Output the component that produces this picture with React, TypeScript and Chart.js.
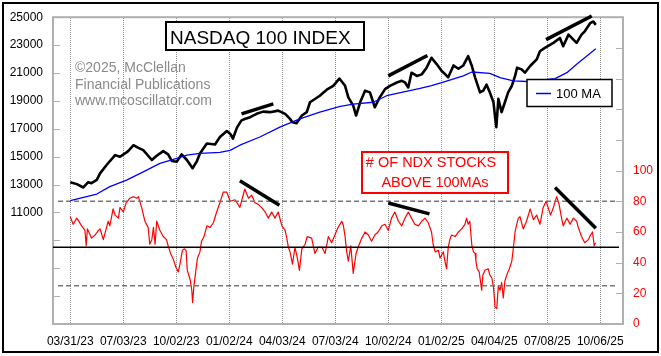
import React, { useEffect, useRef } from 'react';
import { Chart, registerables } from 'chart.js';

Chart.register(...registerables);

const FONT = '"Liberation Sans", Arial, Helvetica, sans-serif';

// x axis: weeks since 03/31/23
const X_MIN = -4.24;
const X_MAX = 135.57;
const dateTickWeeks = [0, 13, 26, 39, 52, 65, 78, 91, 104, 117, 130];
const dateLabels = ['03/31/23', '07/03/23', '10/02/23', '01/02/24', '04/03/24', '07/03/24', '10/02/24', '01/02/25', '04/04/25', '07/08/25', '10/06/25'];

// NASDAQ 100 index (left axis)
const priceWeeks = [0.0, 1.6, 3.2, 4.4, 5.2, 6.5, 7.3, 8.9, 11.0, 12.2, 13.4, 14.2, 15.5, 16.7, 17.9, 20.0, 21.2, 22.8, 24.0, 24.9, 26.1, 27.3, 28.6, 30.0, 31.0, 31.8, 33.5, 35.5, 36.7, 38.4, 39.2, 39.9, 40.9, 42.0, 42.8, 44.1, 45.7, 47.3, 49.0, 51.0, 52.7, 53.9, 54.5, 55.5, 56.8, 58.0, 58.8, 61.2, 62.9, 64.5, 66.0, 67.4, 68.2, 69.4, 70.1, 71.1, 72.3, 73.5, 74.3, 74.7, 75.9, 77.2, 78.4, 80.1, 81.3, 82.1, 82.9, 83.7, 85.0, 86.2, 87.4, 88.6, 89.9, 91.1, 91.5, 92.7, 94.0, 95.2, 96.4, 97.6, 98.5, 99.3, 100.5, 101.3, 102.1, 102.9, 103.8, 104.2, 104.5, 105.0, 105.8, 106.6, 107.4, 108.3, 109.1, 109.6, 110.7, 111.5, 112.8, 114.4, 115.2, 116.4, 118.5, 120.1, 120.9, 122.2, 123.4, 124.2, 125.4, 126.2, 127.5, 128.3, 128.9];
const priceValues = [13170, 13030, 12790, 13170, 13100, 13340, 13800, 14400, 15110, 14990, 15230, 15400, 15820, 15630, 15470, 14760, 15060, 15400, 15160, 14690, 14640, 15160, 14760, 14170, 14640, 15230, 15940, 15870, 16410, 16840, 16650, 16300, 17100, 17600, 17700, 17830, 18070, 18230, 18190, 18300, 18070, 17710, 17470, 17400, 17950, 18190, 18900, 19370, 19800, 20080, 20600, 20080, 19250, 18660, 17950, 18900, 19730, 19610, 18900, 18540, 19250, 19840, 20080, 20320, 20440, 20320, 19960, 21020, 20790, 20900, 21380, 22090, 21620, 21140, 21040, 20690, 21540, 21300, 21540, 22210, 21500, 20670, 19610, 19730, 20160, 19610, 18900, 17830, 17120, 19140, 18190, 18900, 19610, 20080, 20790, 21380, 21260, 21020, 21500, 21970, 22560, 22800, 23160, 23510, 22920, 23750, 23390, 23160, 23750, 23990, 24570, 24690, 24450];

// 100-day moving average (left axis)
const maWeeks = [0.0, 6.5, 9.7, 13.8, 17.9, 22.0, 26.1, 28.6, 31.8, 36.7, 39.2, 41.6, 46.5, 51.4, 56.3, 61.2, 66.2, 69.4, 74.3, 77.6, 85.8, 88.6, 91.5, 96.4, 98.5, 102.9, 105.4, 108.7, 111.9, 116.0, 118.9, 121.8, 124.2, 126.7, 128.9];
const maValues = [11850, 12320, 12850, 13320, 13910, 14520, 14870, 15110, 15230, 15300, 15450, 15820, 16410, 17120, 17710, 18190, 18600, 18770, 18900, 19370, 19890, 20100, 20350, 20790, 21070, 20970, 20670, 20440, 20390, 20500, 20600, 21020, 21620, 22210, 22730];

// # of NDX stocks above 100-day MAs (right axis)
const breadthWeeks = [0.0, 0.7, 1.6, 2.8, 3.6, 3.9, 4.2, 5.2, 6.1, 6.9, 7.3, 8.1, 8.9, 9.3, 9.7, 10.5, 11.0, 11.8, 12.2, 13.0, 13.7, 14.6, 15.5, 16.3, 16.7, 17.5, 18.3, 19.1, 19.5, 20.0, 20.4, 20.8, 21.2, 22.0, 22.8, 23.6, 24.0, 24.6, 25.3, 25.9, 26.5, 26.9, 27.5, 27.9, 28.4, 28.7, 29.4, 29.8, 30.0, 30.3, 30.8, 31.2, 31.8, 32.2, 32.8, 33.5, 34.3, 35.1, 35.9, 36.7, 37.5, 38.4, 39.2, 40.4, 41.6, 42.8, 43.7, 44.5, 45.3, 46.1, 46.9, 47.8, 48.6, 49.4, 50.2, 51.0, 51.9, 52.7, 53.1, 53.5, 53.9, 54.5, 55.1, 55.7, 56.2, 56.8, 57.6, 58.1, 59.2, 60.0, 60.8, 61.7, 62.5, 63.3, 64.1, 64.9, 65.7, 66.6, 67.0, 67.4, 67.8, 68.2, 68.8, 69.4, 70.1, 70.6, 71.5, 72.3, 73.1, 73.9, 74.7, 75.5, 76.4, 77.2, 78.0, 78.8, 79.6, 80.5, 81.3, 82.1, 82.9, 83.7, 84.5, 85.4, 86.2, 87.0, 87.8, 88.6, 89.0, 89.5, 90.3, 90.7, 91.5, 91.9, 92.3, 92.7, 93.1, 93.5, 94.4, 95.2, 96.0, 96.8, 97.2, 97.6, 98.0, 98.5, 98.9, 99.3, 99.5, 99.8, 100.3, 100.7, 100.9, 101.2, 101.7, 102.5, 102.9, 103.4, 103.8, 104.2, 104.6, 105.0, 105.4, 105.8, 106.2, 106.6, 107.2, 107.7, 108.3, 108.7, 109.1, 109.5, 109.9, 110.3, 111.1, 111.9, 112.8, 113.6, 114.4, 115.2, 116.0, 116.7, 117.2, 117.8, 118.5, 119.3, 119.9, 120.5, 120.9, 121.8, 122.6, 123.4, 124.2, 124.6, 125.4, 126.2, 127.1, 127.6, 128.1, 128.5, 128.8];
const breadthValues = [70, 65, 69, 64, 61, 51, 62, 56, 58, 61, 62, 55, 63, 67, 64, 75, 71, 69, 76, 73, 79, 82, 83, 82, 83, 76, 67, 63, 52, 55, 63, 52, 67, 61, 57, 55, 51, 46, 42, 37, 34, 39, 48, 49, 48, 35, 29, 22, 14, 24, 35, 43, 47, 54, 57, 64, 63, 66, 73, 79, 86, 86, 80, 81, 76, 88, 82, 84, 79, 78, 76, 73, 69, 73, 69, 73, 64, 61, 56, 50, 47, 39, 50, 43, 35, 49, 52, 57, 56, 46, 50, 50, 46, 57, 53, 58, 63, 67, 64, 57, 47, 41, 51, 33, 46, 50, 56, 60, 58, 54, 58, 60, 64, 65, 61, 69, 73, 67, 64, 69, 73, 69, 65, 64, 67, 69, 66, 60, 52, 47, 48, 43, 47, 41, 36, 50, 55, 58, 57, 60, 62, 65, 69, 65, 67, 51, 47, 46, 41, 36, 34, 26, 22, 32, 35, 36, 32, 30, 24, 11, 10, 25, 22, 27, 17, 28, 33, 36, 41, 50, 60, 65, 69, 70, 62, 67, 75, 68, 71, 65, 76, 80, 76, 71, 76, 83, 78, 69, 64, 69, 65, 69, 67, 63, 57, 53, 55, 58, 60, 51, 53];

// reference levels on the breadth axis
const upperLevel = 80;
const middleLevel = 50;
const lowerLevel = 25;
const dashedSpan = [-3.0, 133.6];
const middleSpan = [X_MIN, 134.6];

// trend (divergence) lines: [week1, value1, week2, value2]
const priceTrends = [
  [42.0, 18070, 49.8, 18780],
  [78.0, 20790, 87.6, 22250],
  [116.7, 23390, 127.9, 25090],
];
const breadthTrends = [
  [41.6, 93.4, 51.3, 77.4],
  [78.0, 78.9, 88.1, 71.8],
  [118.9, 89.0, 128.9, 62.4],
];

const leftTicksLabeledFrom = 11000;
const rightTicksLabeledTo = 100;

function pts(xs: number[], ys: number[]) {
  return xs.map((x, i) => ({ x, y: ys[i] }));
}

const decor = {
  id: 'decor',
  beforeDraw(chart: any) {
    const { ctx, width, height } = chart;
    ctx.save();
    ctx.fillStyle = '#ffffff';
    ctx.fillRect(0, 0, width, height);
    ctx.strokeStyle = '#000000';
    ctx.lineWidth = 2;
    ctx.strokeRect(3, 3, width - 6, height - 7);
    ctx.restore();
  },
  beforeDatasetsDraw(chart: any) {
    const { ctx, chartArea: a } = chart;
    ctx.save();
    // dotted vertical date grid lines
    const xs = chart.scales.x;
    ctx.fillStyle = '#909090';
    for (const t of xs.ticks) {
      const px = Math.round(xs.getPixelForValue(t.value));
      for (let yy = Math.ceil(a.top); yy < a.bottom; yy += 2) {
        ctx.fillRect(px, yy, 1, 1);
      }
    }
    // plot frame
    ctx.strokeStyle = '#b0b0b0';
    ctx.lineWidth = 2;
    ctx.strokeRect(a.left, a.top, a.right - a.left, a.bottom - a.top);
    // inward tick marks
    ctx.lineWidth = 1;
    ctx.beginPath();
    const yS = chart.scales.y;
    for (const t of yS.ticks) {
      const py = Math.round(yS.getPixelForValue(t.value)) + 0.5;
      ctx.moveTo(a.left, py);
      ctx.lineTo(a.left + 7, py);
    }
    const y2 = chart.scales.y2;
    for (const t of y2.ticks) {
      const py = Math.round(y2.getPixelForValue(t.value)) + 0.5;
      ctx.moveTo(a.right - 7, py);
      ctx.lineTo(a.right, py);
    }
    ctx.stroke();
    ctx.restore();
  },
  afterDatasetsDraw(chart: any) {
    const { ctx } = chart;
    ctx.save();
    // copyright
    ctx.fillStyle = '#8a8a8a';
    ctx.font = `14px ${FONT}`;
    ctx.textAlign = 'left';
    ctx.textBaseline = 'alphabetic';
    ctx.fillText('\u00A92025, McClellan', 75, 72);
    ctx.fillText('Financial Publications', 75, 88.7);
    ctx.fillText('www.mcoscillator.com', 75, 105.3);

    // title box
    ctx.fillStyle = '#ffffff';
    ctx.fillRect(166, 22, 198, 28);
    ctx.strokeStyle = '#000000';
    ctx.lineWidth = 2;
    ctx.strokeRect(166, 22, 198, 28);
    ctx.fillStyle = '#000000';
    ctx.font = `19px ${FONT}`;
    ctx.fillText('NASDAQ 100 INDEX', 170, 44.3);

    // breadth label box
    ctx.fillStyle = '#ffffff';
    ctx.fillRect(362, 152, 146, 41);
    ctx.strokeStyle = '#ff0000';
    ctx.lineWidth = 2;
    ctx.strokeRect(362, 152, 146, 41);
    ctx.fillStyle = '#ff0000';
    ctx.font = `14.5px ${FONT}`;
    ctx.textAlign = 'center';
    ctx.fillText('# OF NDX STOCKS', 431, 167.3);
    ctx.fillText('ABOVE 100MAs', 435, 186.7);

    // legend box
    ctx.textAlign = 'left';
    ctx.fillStyle = '#ffffff';
    ctx.fillRect(527, 79.5, 85, 27);
    ctx.strokeStyle = '#000000';
    ctx.lineWidth = 1.5;
    ctx.strokeRect(527, 79.5, 85, 27);
    ctx.strokeStyle = '#0000ff';
    ctx.lineWidth = 1.5;
    ctx.beginPath();
    ctx.moveTo(536, 93.5);
    ctx.lineTo(551, 93.5);
    ctx.stroke();
    ctx.fillStyle = '#000000';
    ctx.font = `13px ${FONT}`;
    ctx.fillText('100 MA', 556, 97.7);
    ctx.restore();
  },
};

export default function App() {
  const ref = useRef<HTMLCanvasElement>(null);
  useEffect(() => {
    document.body.style.margin = '0';
    const canvas = ref.current!;
    const base = { pointRadius: 0, fill: false, tension: 0, borderJoinStyle: 'round' as const };
    const datasets: any[] = [];
    priceTrends.forEach((t) =>
      datasets.push({ ...base, data: [{ x: t[0], y: t[1] }, { x: t[2], y: t[3] }], yAxisID: 'y', borderColor: '#000', borderWidth: 3.5, clip: false, borderCapStyle: 'butt' })
    );
    breadthTrends.forEach((t) =>
      datasets.push({ ...base, data: [{ x: t[0], y: t[1] }, { x: t[2], y: t[3] }], yAxisID: 'y2', borderColor: '#000', borderWidth: 3.5, clip: false, borderCapStyle: 'butt' })
    );
    datasets.push({ ...base, data: pts(maWeeks, maValues), yAxisID: 'y', borderColor: '#0000ff', borderWidth: 1.3 });
    datasets.push({ ...base, data: pts(priceWeeks, priceValues), yAxisID: 'y', borderColor: '#000000', borderWidth: 2.6 });
    datasets.push({ ...base, data: [{ x: middleSpan[0], y: middleLevel }, { x: middleSpan[1], y: middleLevel }], yAxisID: 'y2', borderColor: '#000000', borderWidth: 1.5 });
    datasets.push({ ...base, data: [{ x: dashedSpan[0], y: upperLevel }, { x: dashedSpan[1], y: upperLevel }], yAxisID: 'y2', borderColor: '#777777', borderWidth: 1.5, borderDash: [5, 3] });
    datasets.push({ ...base, data: [{ x: dashedSpan[0], y: lowerLevel }, { x: dashedSpan[1], y: lowerLevel }], yAxisID: 'y2', borderColor: '#777777', borderWidth: 1.5, borderDash: [5, 3] });
    datasets.push({ ...base, data: pts(breadthWeeks, breadthValues), yAxisID: 'y2', borderColor: '#ff0000', borderWidth: 1.2 });

    const chart = new Chart(canvas, {
      type: 'line',
      data: { datasets },
      options: {
        responsive: false,
        animation: false,
        devicePixelRatio: 1,
        parsing: false as any,
        layout: { padding: { top: 14, left: 0, right: 0, bottom: 0 } },
        plugins: { legend: { display: false }, tooltip: { enabled: false } },
        scales: {
          x: {
            type: 'linear',
            position: 'bottom',
            min: X_MIN,
            max: X_MAX,
            afterFit: (s: any) => { s.height = 32; },
            afterBuildTicks: (s: any) => { s.ticks = dateTickWeeks.map((v) => ({ value: v })); },
            ticks: {
              autoSkip: false,
              maxRotation: 0,
              minRotation: 0,
              padding: 10,
              color: '#000000',
              font: { family: FONT, size: 12 },
              callback: (_v: any, i: number) => dateLabels[i],
            },
            grid: { display: false, drawTicks: false },
            border: { display: false },
          },
          y: {
            type: 'linear',
            position: 'left',
            min: 3000,
            max: 25000,
            afterFit: (s: any) => { s.width = 53; },
            ticks: {
              stepSize: 2000,
              padding: 10,
              color: '#000000',
              font: { family: FONT, size: 12 },
              callback: (v: any) => (v >= leftTicksLabeledFrom ? String(v) : ''),
            },
            grid: { display: false, drawTicks: false },
            border: { display: false },
          },
          y2: {
            type: 'linear',
            position: 'right',
            min: 0,
            max: 200,
            afterFit: (s: any) => { s.width = 38; },
            ticks: {
              stepSize: 20,
              padding: 10,
              color: '#ff0000',
              font: { family: FONT, size: 12 },
              callback: (v: any) => (v <= rightTicksLabeledTo ? String(v) : ''),
            },
            grid: { display: false, drawTicks: false },
            border: { display: false },
          },
        },
      } as any,
      plugins: [decor],
    });
    return () => chart.destroy();
  }, []);
  return (
    <div style={{ width: 661, height: 356 }}>
      <canvas ref={ref} width={661} height={356} style={{ display: 'block', width: 661, height: 356 }} />
    </div>
  );
}
